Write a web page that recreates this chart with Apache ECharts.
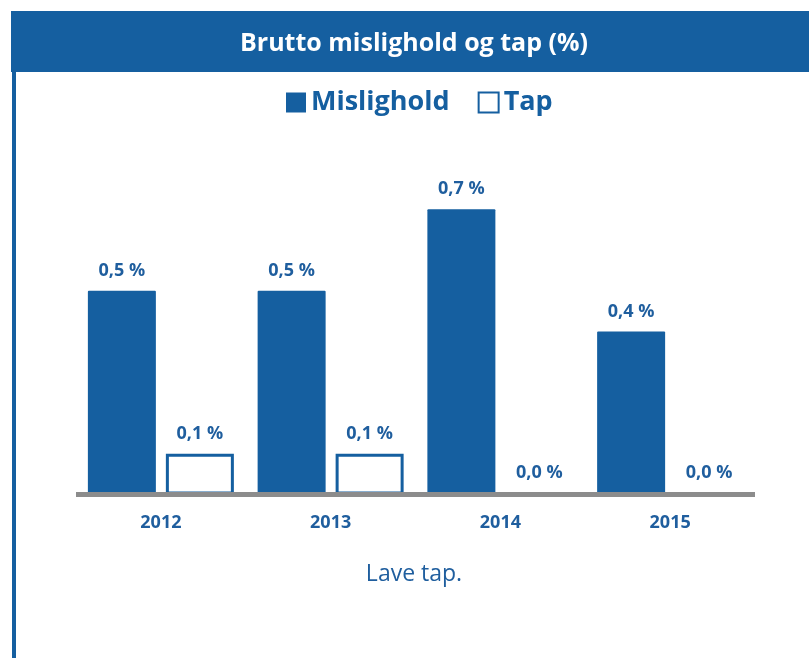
<!DOCTYPE html>
<html>
<head>
<meta charset="utf-8">
<script src="https://cdn.jsdelivr.net/npm/echarts@6/dist/echarts.min.js"></script>
<style>
  html, body { margin: 0; padding: 0; background: #fff; }
  #main { width: 809px; height: 658px; }
</style>
</head>
<body>
<div id="main"></div>
<script>
// data
var years = ['2012', '2013', '2014', '2015'];
var mislighold = [0.5, 0.5, 0.7, 0.4];
var tap = [0.1, 0.1, 0.0, 0.0];

var blue = '#155FA0';
var textBlue = '#1F5E9E';
var font = 'Open Sans';

function pct(p) {
  return p.value.toFixed(1).replace('.', ',') + ' %';
}

var barLabel = {
  show: true,
  position: 'top',
  distance: 11,
  formatter: pct,
  color: textBlue,
  fontWeight: 'bold',
  fontSize: 18,
  fontFamily: font
};

var chart = echarts.init(document.getElementById('main'));
chart.setOption({
  animation: false,
  graphic: [
    { type: 'rect', z: -10, shape: { x: 11, y: 11, width: 798, height: 61 }, style: { fill: blue } },
    { type: 'rect', z: -10, shape: { x: 12, y: 71, width: 4, height: 587 }, style: { fill: blue } }
  ],
  title: [
    {
      text: 'Brutto mislighold og tap (%)',
      left: 414,
      textAlign: 'center',
      top: 31,
      padding: 0,
      textStyle: { color: '#fff', fontSize: 25, fontWeight: 'bold', fontFamily: font }
    },
    {
      text: 'Lave tap.',
      left: 414,
      textAlign: 'center',
      top: 563,
      padding: 0,
      textStyle: { color: textBlue, fontSize: 23, fontWeight: 'normal', fontFamily: font }
    }
  ],
  legend: {
    left: 286,
    top: 89,
    padding: 0,
    itemWidth: 20,
    itemHeight: 20,
    itemGap: 28,
    icon: 'rect',
    textStyle: { color: blue, fontSize: 27, fontWeight: 'bold', fontFamily: font },
    data: ['Mislighold', 'Tap']
  },
  grid: { left: 76, right: 54, top: 168.5, bottom: 163.5, containLabel: false },
  xAxis: {
    type: 'category',
    data: years,
    z: 5,
    axisLine: { lineStyle: { color: '#8c8c8c', width: 5, cap: 'butt' } },
    axisTick: { show: false },
    axisLabel: { margin: 19, color: textBlue, fontWeight: 'bold', fontSize: 18, fontFamily: font }
  },
  yAxis: {
    type: 'value',
    min: 0,
    max: 0.8,
    show: false,
    splitLine: { show: false }
  },
  series: [
    {
      name: 'Mislighold',
      type: 'bar',
      data: mislighold,
      barWidth: 68,
      barGap: '14.7%',
      itemStyle: { color: blue, borderRadius: 1 },
      label: barLabel
    },
    {
      name: 'Tap',
      type: 'bar',
      data: tap,
      barWidth: 68,
      itemStyle: { color: '#fff', borderColor: blue, borderWidth: 3 },
      label: barLabel
    }
  ]
});
</script>
</body>
</html>
